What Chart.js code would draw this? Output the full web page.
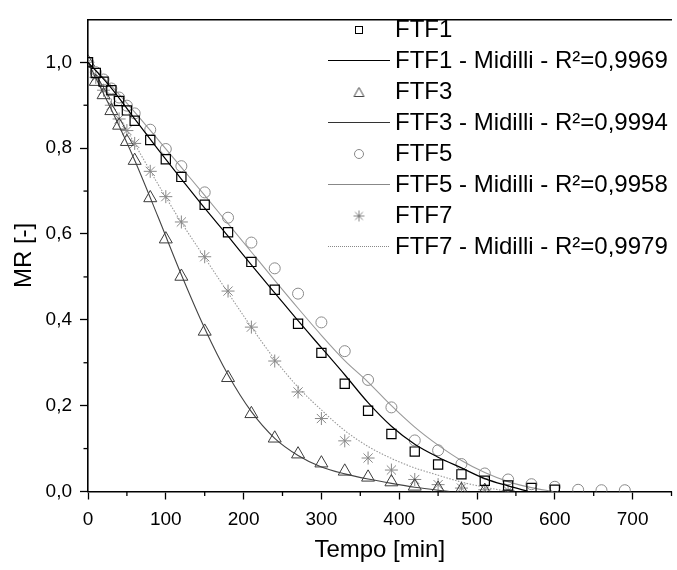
<!DOCTYPE html>
<html>
<head>
<meta charset="utf-8">
<script src="https://cdn.jsdelivr.net/npm/chart.js@4"></script>
<style>
html,body{margin:0;padding:0;background:#fff;overflow:hidden;}
#wrap{width:680px;height:570px;}
</style>
</head>
<body>
<div id="wrap"><canvas id="c" width="680" height="570"></canvas></div>
<script>
// ---- tick labels ----
const xTicks = [0, 100, 200, 300, 400, 500, 600, 700];
const xMinorTicks = [50, 150, 250, 350, 450, 550, 650, 750];
const yTicks = [0, 0.2, 0.4, 0.6, 0.8, 1.0];
const yMinorTicks = [0.1, 0.3, 0.5, 0.7, 0.9];

// ---- series names ----
const seriesNames = ['FTF1', 'FTF1 - Midilli - R²=0,9969', 'FTF3', 'FTF3 - Midilli - R²=0,9994',
                     'FTF5', 'FTF5 - Midilli - R²=0,9958', 'FTF7', 'FTF7 - Midilli - R²=0,9979'];

// ---- measured data ----
const tFTF1 = [0,10,20,30,40,50,60,80,100,120,150,180,210,240,270,300,330,360,390,420,450,480,510,540,570,600];
const mrFTF1 = [1.0,0.975,0.955,0.935,0.91,0.888,0.864,0.819,0.774,0.733,0.668,0.604,0.535,0.47,0.391,0.323,0.251,0.188,0.134,0.093,0.063,0.040,0.025,0.014,0.008,0.004];

const tFTF3 = [0,10,20,30,40,50,60,80,100,120,150,180,210,240,270,300,330,360,390,420,450,480,510];
const mrFTF3 = [1.0,0.955,0.924,0.887,0.853,0.815,0.771,0.684,0.588,0.501,0.373,0.265,0.181,0.124,0.087,0.066,0.047,0.033,0.022,0.012,0.007,0.004,0.002];

const tFTF5 = [0,10,20,30,40,50,60,80,100,120,150,180,210,240,270,300,330,360,390,420,450,480,510,540,570,600,630,660,690];
const mrFTF5 = [1.0,0.977,0.96,0.939,0.918,0.899,0.881,0.843,0.798,0.758,0.697,0.638,0.58,0.52,0.461,0.394,0.327,0.26,0.196,0.119,0.096,0.064,0.042,0.028,0.017,0.011,0.004,0.003,0.003];

const tFTF7 = [0,10,20,30,40,50,60,80,100,120,150,180,210,240,270,300,330,360,390,420,450,480,510,540];
const mrFTF7 = [1.0,0.965,0.935,0.9,0.868,0.841,0.811,0.746,0.687,0.628,0.547,0.467,0.383,0.304,0.232,0.17,0.118,0.078,0.05,0.028,0.016,0.008,0.004,0.002];

// ---- Midilli fitted curves ----
const fitT1 = [0,30,60,90,120,150,180,210,240,270,300,330,360,390,420,450,480,510,540,566];
const fitMR1 = [1.0,0.94,0.868,0.797,0.728,0.66,0.595,0.528,0.463,0.398,0.335,0.272,0.207,0.152,0.11,0.08,0.055,0.03,0.013,0.0];

const fitT3 = [0,30,60,90,120,150,180,210,240,270,300,330,360,390,420,450,465];
const fitMR3 = [1.0,0.89,0.772,0.64,0.505,0.38,0.272,0.186,0.124,0.084,0.057,0.041,0.029,0.019,0.01,0.003,0.0];

const fitT5 = [0,30,60,90,120,150,180,210,240,270,300,330,360,390,420,450,480,510,540,570,598];
const fitMR5 = [1.0,0.945,0.884,0.82,0.755,0.69,0.624,0.558,0.492,0.427,0.364,0.305,0.255,0.2,0.15,0.108,0.072,0.044,0.023,0.009,0.0];

const fitT7 = [0,30,60,90,120,150,180,210,240,270,300,330,360,390,420,450,480,510,540];
const fitMR7 = [1.0,0.905,0.81,0.716,0.627,0.545,0.463,0.383,0.308,0.243,0.19,0.142,0.105,0.077,0.055,0.038,0.022,0.01,0.0];

const pts = (t, v) => t.map((x, i) => ({x: x, y: v[i]}));
const FONT = '"Liberation Sans", Arial, sans-serif';

// ---- legend icons ----
function icon(w, h, draw) {
  const c = document.createElement('canvas');
  c.width = w; c.height = h;
  const g = c.getContext('2d');
  draw(g);
  return c;
}
const iconSquare = icon(10, 10, g => { g.strokeStyle = '#000'; g.lineWidth = 1; g.strokeRect(1.5, 1.5, 7, 7); });
const iconTri = icon(13, 12, g => { g.strokeStyle = '#444'; g.lineWidth = 1; g.beginPath(); g.moveTo(6.5, 1.5); g.lineTo(11.5, 10.5); g.lineTo(1.5, 10.5); g.closePath(); g.stroke(); });
const iconCircle = icon(12, 12, g => { g.strokeStyle = '#888'; g.lineWidth = 1; g.beginPath(); g.arc(6, 6, 4.5, 0, Math.PI * 2); g.stroke(); });
const iconStar = icon(13, 13, g => { g.strokeStyle = '#888'; g.lineWidth = 1; g.beginPath();
  g.moveTo(6.5, 1); g.lineTo(6.5, 12); g.moveTo(1, 6.5); g.lineTo(12, 6.5);
  g.moveTo(2.6, 2.6); g.lineTo(10.4, 10.4); g.moveTo(10.4, 2.6); g.lineTo(2.6, 10.4); g.stroke(); });
function iconLine(color, dotted) {
  return icon(62, 4, g => {
    g.fillStyle = color;
    if (dotted) { for (let i = 0; i < 62; i += 2) g.fillRect(i, 1, 1, 1); }
    else g.fillRect(0, 1, 62, 1);
  });
}
const legendIcons = [iconSquare, iconLine('#000', false), iconTri, iconLine('#333', false),
                     iconCircle, iconLine('#888', false), iconStar, iconLine('#888', true)];

// ---- plugins ----
const minorTicks = {
  id: 'minorTicks',
  afterDraw(chart) {
    const {ctx, chartArea, scales} = chart;
    ctx.save();
    ctx.strokeStyle = '#000';
    ctx.lineWidth = 1.3;
    xMinorTicks.forEach(v => {
      const p = scales.x.getPixelForValue(v);
      ctx.beginPath(); ctx.moveTo(p, chartArea.bottom); ctx.lineTo(p, chartArea.bottom + 4.5); ctx.stroke();
    });
    yMinorTicks.forEach(v => {
      const p = scales.y.getPixelForValue(v);
      ctx.beginPath(); ctx.moveTo(chartArea.left, p); ctx.lineTo(chartArea.left - 4.5, p); ctx.stroke();
    });
    ctx.restore();
  }
};
const legendPlace = {
  id: 'legendPlace',
  afterLayout(chart) {
    const l = chart.legend;
    if (!l) return;
    l.left = 328; l.top = 11; l.right = 680; l.bottom = 320;
    l.width = l.right - l.left; l.height = l.bottom - l.top;
  }
};

const pointBase = {showLine: false, clip: 0};
const lineBase = {showLine: true, pointRadius: 0, pointHoverRadius: 0, cubicInterpolationMode: 'monotone', fill: false, clip: 0};

new Chart(document.getElementById('c'), {
  type: 'scatter',
  data: {
    datasets: [
      Object.assign({label: seriesNames[0], data: pts(tFTF1, mrFTF1), pointStyle: 'rect', pointRadius: 6.5, borderColor: '#000', backgroundColor: 'rgba(0,0,0,0)', pointBorderWidth: 1.2}, pointBase),
      Object.assign({label: seriesNames[1], data: pts(fitT1, fitMR1), borderColor: '#000', borderWidth: 1.2}, lineBase),
      Object.assign({label: seriesNames[2], data: pts(tFTF3, mrFTF3), pointStyle: 'triangle', pointRadius: 7.5, borderColor: '#3c3c3c', backgroundColor: 'rgba(0,0,0,0)', pointBorderWidth: 1}, pointBase),
      Object.assign({label: seriesNames[3], data: pts(fitT3, fitMR3), borderColor: '#444', borderWidth: 1.1}, lineBase),
      Object.assign({label: seriesNames[4], data: pts(tFTF5, mrFTF5), pointStyle: 'circle', pointRadius: 5.5, borderColor: '#8a8a8a', backgroundColor: 'rgba(0,0,0,0)', pointBorderWidth: 1}, pointBase),
      Object.assign({label: seriesNames[5], data: pts(fitT5, fitMR5), borderColor: '#999', borderWidth: 1.1}, lineBase),
      Object.assign({label: seriesNames[6], data: pts(tFTF7, mrFTF7), pointStyle: 'star', pointRadius: 6.5, borderColor: '#888', backgroundColor: 'rgba(0,0,0,0)', pointBorderWidth: 1}, pointBase),
      Object.assign({label: seriesNames[7], data: pts(fitT7, fitMR7), borderColor: '#999', borderWidth: 1.1, borderDash: [1.5, 1.5]}, lineBase)
    ]
  },
  options: {
    responsive: false,
    animation: false,
    layout: {padding: 0},
    plugins: {
      tooltip: {enabled: false},
      legend: {
        position: 'chartArea',
        align: 'start',
        labels: {
          usePointStyle: true,
          pointStyleWidth: 48,
          padding: 7,
          color: '#000',
          font: {family: FONT, size: 24},
          generateLabels: chart => chart.data.datasets.map((ds, i) => ({
            text: ds.label, pointStyle: legendIcons[i], fontColor: '#000', lineWidth: 0,
            hidden: false, datasetIndex: i, strokeStyle: 'rgba(0,0,0,0)', fillStyle: 'rgba(0,0,0,0)'
          }))
        }
      }
    },
    scales: {
      x: {
        type: 'linear', position: 'bottom', min: 0, max: 750,
        afterBuildTicks: s => { s.ticks = xTicks.map(v => ({value: v})); },
        afterFit: s => { s.height = 78.5; },
        ticks: {font: {family: FONT, size: 19}, color: '#000', padding: 9, maxRotation: 0, autoSkip: false,
                callback: v => String(v)},
        grid: {display: true, drawOnChartArea: false, drawTicks: true, tickLength: 8, tickColor: '#000', tickWidth: 1.3},
        border: {display: true, color: '#000', width: 1.6},
        title: {display: true, text: 'Tempo [min]', color: '#000', font: {family: FONT, size: 24}, padding: {top: 0, bottom: 5}}
      },
      x2: {
        type: 'linear', position: 'top', min: 0, max: 750, display: true,
        afterFit: s => { s.height = 9.3; },
        ticks: {display: false},
        grid: {display: true, drawOnChartArea: false, drawTicks: false},
        border: {display: true, color: '#000', width: 1.6}
      },
      y: {
        type: 'linear', position: 'left', min: 0, max: 1.1,
        afterBuildTicks: s => { s.ticks = yTicks.map(v => ({value: v})); },
        afterFit: s => { s.width = 88; },
        ticks: {font: {family: FONT, size: 19}, color: '#000', padding: 8, autoSkip: false,
                callback: v => Number(v).toFixed(1).replace('.', ',')},
        grid: {display: true, drawOnChartArea: false, drawTicks: true, tickLength: 8, tickColor: '#000', tickWidth: 1.3},
        border: {display: true, color: '#000', width: 1.6},
        title: {display: true, text: 'MR [-]', color: '#000', font: {family: FONT, size: 24}, padding: {top: 10, bottom: 0}}
      }
    }
  },
  plugins: [minorTicks, legendPlace]
});
</script>
</body>
</html>
